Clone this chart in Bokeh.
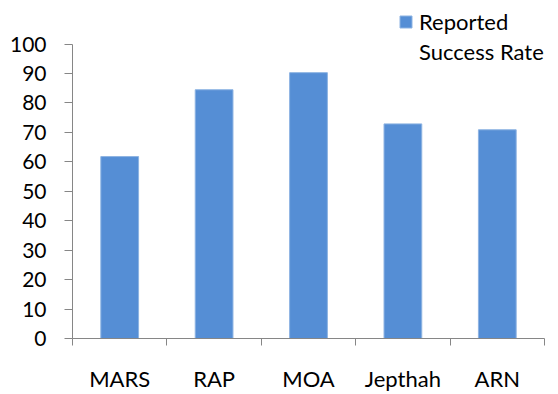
from bokeh.plotting import figure
from bokeh.models import Range1d, FixedTicker, ColumnDataSource, Legend, LegendItem
from bokeh.embed import file_html
from bokeh.resources import INLINE

categories = ["MARS", "RAP", "MOA", "Jepthah", "ARN"]
success_rate = [61.8, 84.5, 90.3, 72.9, 70.9]
y_ticks = [0, 10, 20, 30, 40, 50, 60, 70, 80, 90, 100]
series_name_lines = ["Reported", "Success Rate"]

FONT = "Lato"
AXIS_COLOR = "#868686"
BAR_COLOR = "#558ED5"

# layout: the frame reaches the top of the page so the legend is not clipped;
# the y axis itself is bounded to 0..100
Y_TOP = 100 * 341 / 297

xs = [i + 0.5 for i in range(len(categories))]
source = ColumnDataSource(data=dict(x=xs, top=success_rate, cat=categories))

p = figure(width=558, height=394, output_backend="svg", toolbar_location=None,
           x_range=Range1d(0, len(categories)), y_range=Range1d(0, Y_TOP),
           min_border_left=72, min_border_right=14, min_border_top=0, min_border_bottom=53)
p.outline_line_color = None
p.xgrid.visible = False
p.ygrid.visible = False
p.background_fill_color = "white"
p.border_fill_color = "white"

r = p.vbar(x="x", top="top", width=0.4, source=source,
           fill_color=BAR_COLOR, line_color="#8DB3E2", line_width=1)
# invisible renderer used only to hold the legend's second text line
r_blank = p.vbar(x=[], top=[], width=0.4, fill_alpha=0, line_alpha=0)

# x axis: labels at centers, ticks at boundaries
xa = p.xaxis[0]
xa.ticker = FixedTicker(ticks=xs, minor_ticks=list(range(len(categories) + 1)))
xa.major_label_overrides = {x: c for x, c in zip(xs, categories)}
xa.major_tick_out = 0
xa.major_tick_in = 0
xa.minor_tick_out = 7
xa.minor_tick_in = 0
xa.minor_tick_line_color = AXIS_COLOR
xa.axis_line_color = AXIS_COLOR
xa.major_label_text_font = FONT
xa.major_label_text_font_size = "22px"
xa.major_label_text_color = "black"
xa.major_label_standoff = 19

ya = p.yaxis[0]
ya.ticker = FixedTicker(ticks=y_ticks, minor_ticks=[])
ya.bounds = (0, 100)
ya.major_tick_out = 8
ya.major_tick_in = 0
ya.major_tick_line_color = AXIS_COLOR
ya.axis_line_color = AXIS_COLOR
ya.major_label_text_font = FONT
ya.major_label_text_font_size = "21px"
ya.major_label_text_color = "black"
ya.major_label_standoff = 18

legend = Legend(items=[LegendItem(label=series_name_lines[0], renderers=[r]),
                       LegendItem(label=series_name_lines[1], renderers=[r_blank])],
                location=(326, 272), padding=0, margin=0, spacing=0,
                glyph_width=15, glyph_height=15, label_standoff=6,
                label_text_font=FONT, label_text_font_size="22px",
                label_text_color="black", border_line_color=None,
                background_fill_alpha=0, label_height=30)
p.add_layout(legend, "center")

open("out.html", "w").write(file_html(p, INLINE))
